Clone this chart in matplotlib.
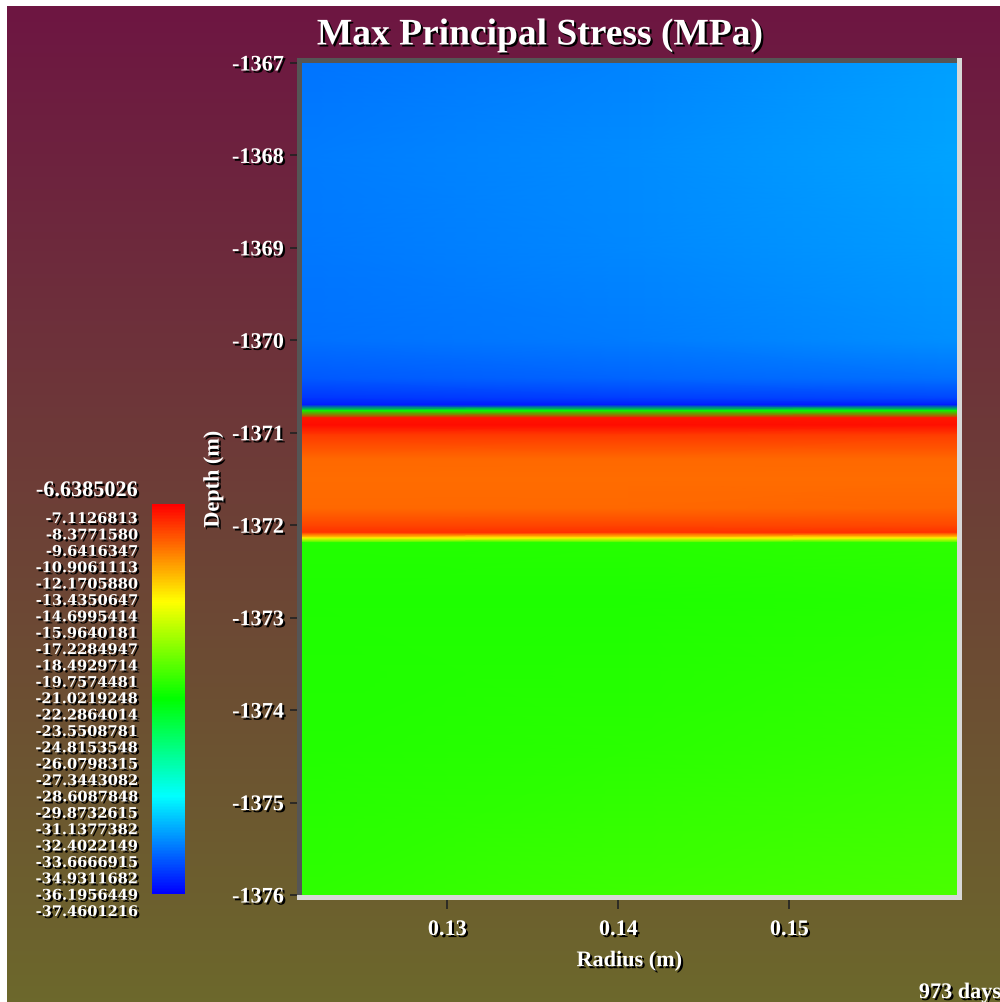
import matplotlib; matplotlib.use("Agg")
import matplotlib.pyplot as plt
import matplotlib.patheffects as pe
from matplotlib.colors import LinearSegmentedColormap, Normalize
from matplotlib.cm import ScalarMappable
from matplotlib.patches import Rectangle
import numpy as np

# stress profile down the hole (m), sampled at three radii (m)
depth = [-1367.0, -1368.0, -1369.0, -1370.0, -1370.42, -1370.63, -1370.70,
         -1370.76, -1370.84, -1370.92, -1371.02, -1371.28, -1371.50,
         -1371.82, -1372.02, -1372.08, -1372.14, -1372.19, -1372.80,
         -1374.42, -1376.0]
radius = [0.1215, 0.1406, 0.1598]
stress_inner = [-33.9, -33.7, -33.8, -34.0, -34.7, -35.8, -36.6, -22.0, -7.3,
                -7.1, -8.4, -9.8, -10.0, -9.8, -8.6, -8.1, -14.0, -21.0,
                -21.2, -21.0, -20.7]
stress_mid = [-33.4, -33.2, -33.3, -33.7, -34.4, -35.6, -36.6, -22.0, -7.3,
              -7.1, -8.4, -9.8, -9.9, -9.8, -8.6, -8.1, -14.0, -20.9,
              -21.1, -20.8, -20.2]
stress_outer = [-32.6, -32.5, -32.7, -33.1, -34.0, -35.3, -36.6, -22.0, -7.4,
                -7.2, -8.5, -9.8, -9.9, -9.7, -8.7, -8.2, -14.0, -20.7,
                -20.9, -20.4, -19.8]

vmax, vmin = -6.6385026, -37.4601216
cbar_labels = ["-7.1126813", "-8.3771580", "-9.6416347", "-10.9061113",
               "-12.1705880", "-13.4350647", "-14.6995414", "-15.9640181",
               "-17.2284947", "-18.4929714", "-19.7574481", "-21.0219248",
               "-22.2864014", "-23.5508781", "-24.8153548", "-26.0798315",
               "-27.3443082", "-28.6087848", "-29.8732615", "-31.1377382",
               "-32.4022149", "-33.6666915", "-34.9311682", "-36.1956449",
               "-37.4601216"]
xticks = [0.13, 0.14, 0.15]
yticks = list(range(-1376, -1366))

W, H = 1000, 1003
fig = plt.figure(figsize=(W/100, H/100), dpi=100, facecolor="white")
serif = ["Liberation Serif", "DejaVu Serif"]
wide_serif = ["DejaVu Serif"]
shadow = [pe.withSimplePatchShadow(offset=(1.5, -1.5), shadow_rgbFace="black", alpha=1.0)]

def fx(px): return px/W
def fy(py): return 1 - py/H

# maroon -> olive backdrop
bg = fig.add_axes([fx(7), 0, 1 - fx(7), fy(7)], zorder=-10)
top_c = np.array([110, 22, 66])/255; bot_c = np.array([108, 104, 44])/255
t = np.linspace(0, 1, 256)[:, None]
grad = (top_c*(1 - t) + bot_c*t)[:, None, :]
bg.imshow(grad, aspect="auto", extent=[0, 1, 0, 1])
bg.set_axis_off()

rainbow = LinearSegmentedColormap.from_list(
    "rainbow5", ["#0000ff", "#00ffff", "#00ff00", "#ffff00", "#ff0000"])
norm = Normalize(vmin, vmax)

ax = fig.add_axes([fx(302), fy(896), fx(957 - 302), (896 - 64)/H])
R, D = np.meshgrid(radius, depth)
C = np.column_stack([stress_inner, stress_mid, stress_outer])
ax.pcolormesh(R, D, C, cmap=rainbow, norm=norm, shading="gouraud")
ax.set_xlim(radius[0], radius[-1]); ax.set_ylim(-1376, -1367)
for sp in ax.spines.values(): sp.set_visible(False)
ax.set_xticks(xticks); ax.set_xticklabels([f"{v:.2f}" for v in xticks])
ax.set_yticks(yticks); ax.set_yticklabels([str(v) for v in yticks])
ax.tick_params(axis="y", length=9, width=1.2, color="#222222", pad=4)
ax.tick_params(axis="x", length=10, width=1.2, color="#222222", pad=8)
for lab in ax.get_xticklabels() + ax.get_yticklabels():
    lab.set_family(serif); lab.set_weight("bold"); lab.set_fontsize(16)
    lab.set_color("white"); lab.set_path_effects(shadow)
ax.set_xlabel("Radius (m)", family=serif, weight="bold", fontsize=16,
              color="white", path_effects=shadow, labelpad=8)
ax.set_ylabel("Depth (m)", family=serif, weight="bold", fontsize=16,
              color="white", path_effects=shadow, labelpad=6)

# bevelled frame round the plot
for x0, y0, x1, y1, col in [(297, 59, 302, 901, "#555555"), (297, 59, 962, 64, "#555555"),
                            (957, 59, 962, 901, "#d8d8d8"), (297, 896, 962, 901, "#d8d8d8")]:
    fig.add_artist(Rectangle((fx(x0), fy(y1)), fx(x1 - x0), (y1 - y0)/H,
                             transform=fig.transFigure, color=col, lw=0, zorder=5))

fig.text(fx(540), fy(36), "Max Principal Stress (MPa)", family=serif, weight="bold",
         fontsize=27, color="white", ha="center", va="center", path_effects=shadow)
fig.text(fx(1001), fy(994), "973 days", family=serif, weight="bold", fontsize=16,
         color="white", ha="right", va="center", path_effects=shadow)

cax = fig.add_axes([fx(152), fy(895), fx(185 - 152), (895 - 505)/H])
cb = fig.colorbar(ScalarMappable(norm=norm, cmap=rainbow), cax=cax)
cb.set_ticks([]); cb.outline.set_visible(False)

# legend values: max on its own, then evenly stepped levels down to the min
fig.text(fx(138), fy(492), f"{vmax:.7f}", family=serif, weight="bold", fontsize=16,
         color="white", ha="right", va="center", path_effects=shadow)
step = (913 - 520)/(len(cbar_labels) - 1)
for i, s in enumerate(cbar_labels):
    fig.text(fx(138), fy(520 + i*step), s, family=wide_serif, weight="bold",
             fontsize=10.5, color="white", ha="right", va="center",
             path_effects=shadow)

fig.savefig("out.png", dpi=100, facecolor="white")
